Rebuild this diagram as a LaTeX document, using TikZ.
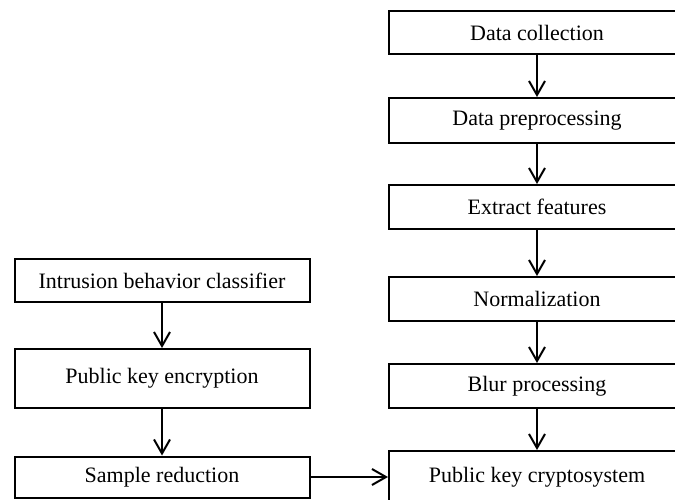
\documentclass[tikz,border=0pt]{standalone}
\usepackage{fontspec}
\setmainfont{Liberation Serif}
\usetikzlibrary{arrows.meta}
\begin{document}
\begin{tikzpicture}[x=1pt,y=-1pt,
  stage/.style={draw=black, line width=2pt, rectangle, inner sep=0pt,
    font=\fontsize{22}{26}\selectfont},
  flow/.style={draw=black, line width=2pt,
    -{Straight Barb[length=14pt,width=16pt,line width=2pt]}}]
  \useasboundingbox (0,0) rectangle (675,500);
  \clip (0,0) rectangle (675,500);

  % right column: data pipeline
  \node[stage, minimum width=296pt, minimum height=43pt] (dc)  at (537,32.5)  {Data collection};
  \node[stage, minimum width=296pt, minimum height=45pt] (dp)  at (537,120.5) {Data preprocessing};
  \node[stage, minimum width=296pt, minimum height=44pt] (ef)  at (537,207)   {Extract features};
  \node[stage, minimum width=296pt, minimum height=44pt] (nm)  at (537,299)   {Normalization};
  \node[stage, minimum width=296pt, minimum height=44pt] (bp)  at (537,386)   {Blur processing};
  \node[stage, minimum width=296pt, minimum height=52pt] (pkc) at (537,477)   {Public key cryptosystem};

  % left column: classifier branch
  \node[stage, minimum width=295pt, minimum height=43pt] (ibc) at (162,280.5) {Intrusion behavior classifier};
  \node[stage, minimum width=295pt, minimum height=59pt] (pke) at (162,378.5) {Public key encryption};
  \node[stage, minimum width=295pt, minimum height=41pt] (sr)  at (162,477)   {Sample reduction};

  % connectors
  \draw[flow] (dc) -- (dp);
  \draw[flow] (dp) -- (ef);
  \draw[flow] (ef) -- (nm);
  \draw[flow] (nm) -- (bp);
  \draw[flow] (bp) -- (pkc);
  \draw[flow] (ibc) -- (pke);
  \draw[flow] (pke) -- (sr);
  \draw[flow] (sr) -- (pkc);
\end{tikzpicture}
\end{document}
